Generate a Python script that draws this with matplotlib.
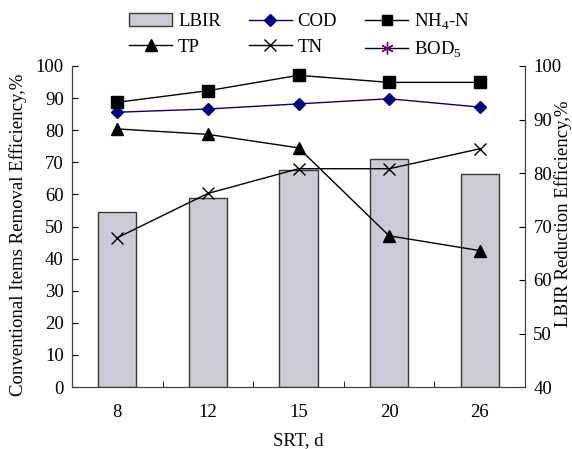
import matplotlib
matplotlib.use("Agg")
import matplotlib.pyplot as plt
from matplotlib.lines import Line2D
from matplotlib.patches import Patch

plt.rcParams['font.family'] = ['Liberation Serif', 'DejaVu Serif']
plt.rcParams['mathtext.fontset'] = 'custom'
plt.rcParams['mathtext.rm'] = 'Liberation Serif'

srt = ['8', '12', '15', '20', '26']
lbir = [72.7, 75.3, 80.6, 82.7, 79.8]
cod = [85.6, 86.6, 88.2, 89.8, 87.2]
nh4 = [88.7, 92.3, 97.1, 94.9, 94.9]
tp = [80.4, 78.7, 74.5, 47.1, 42.5]
tn = [46.5, 60.3, 68.0, 68.0, 74.2]

fs = 13.5
fig = plt.figure(figsize=(5.72, 4.49), dpi=100)
ax = fig.add_axes([72/572, 1-387/449, (525-72)/572, (387-66)/449])
ax2 = ax.twinx()

x = list(range(len(srt)))
ax2.bar(x, [v - 40 for v in lbir], bottom=40, width=0.42, color='#cbcbd5',
        edgecolor='#383838', linewidth=1.0, zorder=1)
ax2.set_ylim(40, 100)
ax2.set_yticks(range(40, 101, 10))

ax.set_zorder(ax2.get_zorder() + 1)
ax.patch.set_visible(False)

ax.plot(x, cod, color='#000080', marker='D', markersize=6, linewidth=1.0)
ax.plot(x, nh4, color='black', marker='s', markersize=8, linewidth=1.0)
ax.plot(x, tp, color='black', marker='^', markersize=8, linewidth=1.0)
ax.plot(x, tn, color='black', marker='x', markersize=9, markeredgewidth=1.0, linewidth=1.0)

ax.set_xlim(-0.5, 4.5)
ax.set_ylim(0, 100)
ax.set_yticks(range(0, 101, 10))
ax.set_xticks(x)
ax.set_xticklabels(srt)
ax.set_xticks([i + 0.5 for i in range(4)], minor=True)
ax.tick_params(axis='x', which='major', length=0, pad=12, labelsize=fs)
ax.tick_params(axis='x', which='minor', direction='in', length=4)
ax.tick_params(axis='y', direction='in', length=4, labelsize=fs, pad=6)
ax2.tick_params(axis='y', direction='in', length=4, labelsize=fs, pad=6)
for a in (ax, ax2):
    for s in a.spines.values():
        s.set_color('#404040')
    a.spines['top'].set_visible(False)

ax.set_xlabel('SRT, d', fontsize=fs, labelpad=8)
fig.text(9/572, 1-396/449, 'Conventional Items Removal Efficiency,%', rotation=90,
         ha='left', va='bottom', fontsize=fs)
fig.text(554/572, 1-327/449, 'LBIR Reduction Efficiency,%', rotation=90,
         ha='left', va='bottom', fontsize=fs)

handles = [
    Patch(facecolor='#cbcbd5', edgecolor='#383838', linewidth=1.0),
    Line2D([], [], color='black', marker='^', markersize=8, linewidth=1.0),
    Line2D([], [], color='#000080', marker='D', markersize=6, linewidth=1.0),
    Line2D([], [], color='black', marker='x', markersize=8, linewidth=1.0),
    Line2D([], [], color='black', marker='s', markersize=7, linewidth=1.0),
    Line2D([], [], color='black', marker=(6, 2, 0), markersize=9,
           markeredgecolor='#800080', markeredgewidth=1.0, linewidth=1.0),
]
labels = ['LBIR', 'TP', 'COD', 'TN', r'NH$_4$-N', r'BOD$_5$']
fig.legend(handles, labels, ncol=3, frameon=False, fontsize=fs,
           loc='upper left', bbox_to_anchor=(118/572, 1.0), handlelength=2.3,
           columnspacing=1.5, handletextpad=0.3, labelspacing=0.45, borderaxespad=0.2)

fig.savefig('out.png', dpi=100)
